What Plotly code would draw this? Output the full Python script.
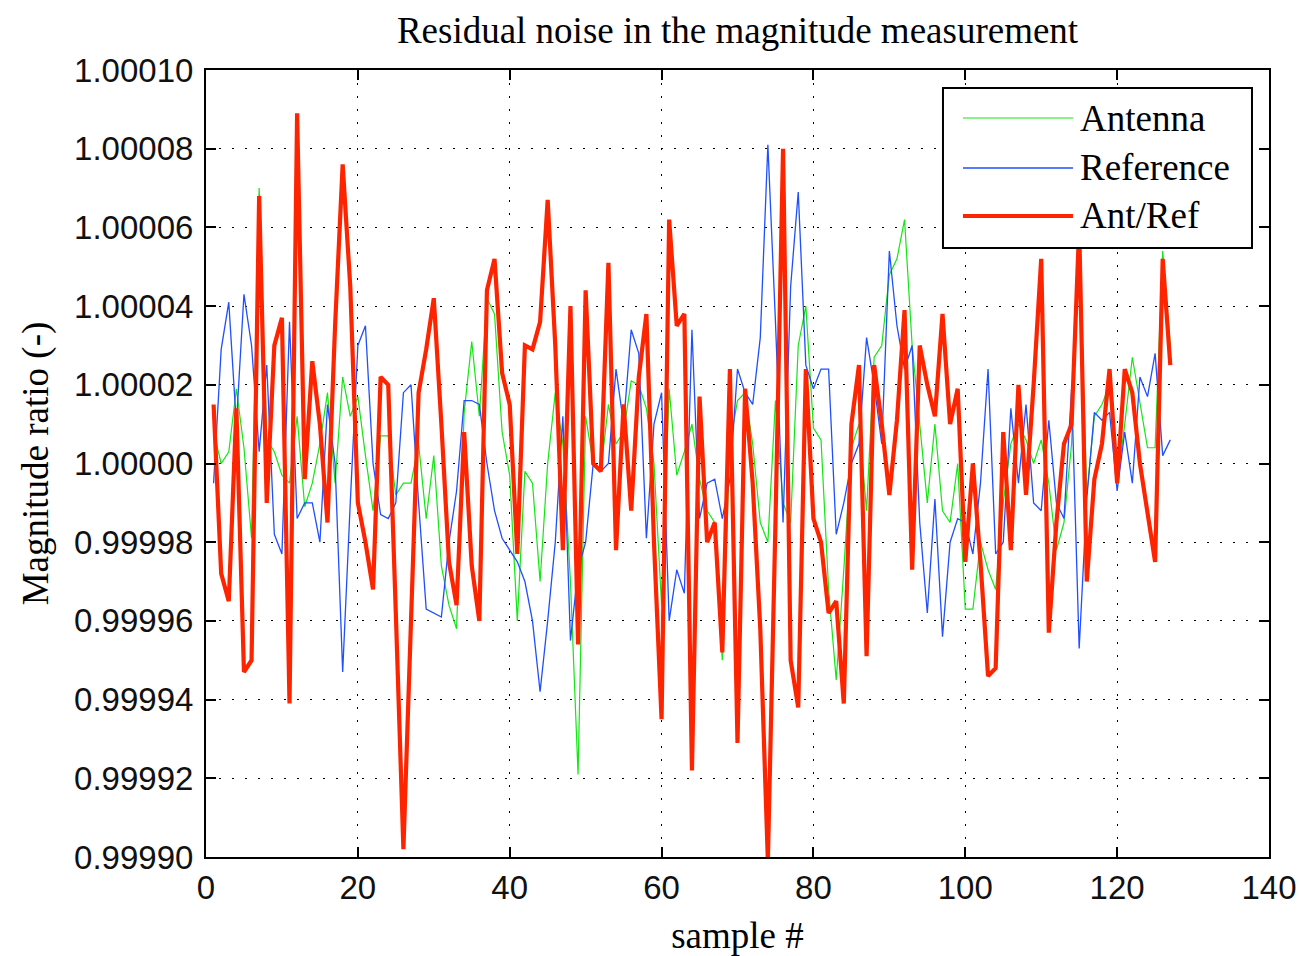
import numpy as np
import plotly.graph_objects as go

# Sample index of each measurement
samples = list(range(1, 128))

# Deviation from unity for each measurement, in parts per million (1e-6)
antenna_ppm = [
    8, 0, 3, 19, 4, -19, 70, 6, 3, -3,
    -5, 12, -11, -5, 5, 18, -5, 22, 12, 17,
    2, -12, 7, 7, -8, -5, -5, 5, -14, 2,
    -26, -36, -42, 13, 31, 12, 42, 38, 8, -3,
    -40, -2, -5, -30, 0, 18, 5, -30, -79, 12,
    0, -2, 15, 5, 8, 21, 20, 14, 0, -36,
    19, -3, 3, 10, -4, -12, -15, -50, 5, 16,
    18, 5, -15, -20, 16, -10, -15, 30, 40, 9,
    6, -32, -55, -27, 4, 10, -12, 27, 30, 48,
    52, 62, 30, 10, -10, 10, -12, -15, 0, -37,
    -37, -20, -27, -32, -10, 5, 10, 6, 0, 6,
    -5, -22, -15, 5, 60, -8, 12, 15, 20, -5,
    10, 27, 15, 4, 4, 54, 30,
]

reference_ppm = [
    -5, 29, 41, 10, 43, 30, 3, 25, -18, -23,
    36, -14, -10, -10, -20, 15, 0, -53, -10, 30,
    35, 0, -13, -14, -10, 18, 20, -10, -37, -38,
    -39, -20, -7, 16, 16, 15, 0, -12, -19, -22,
    -25, -30, -40, -58, -40, -20, 12, -45, -27, -20,
    0, -2, 0, 24, 10, 34, 28, -19, 10, 18,
    -40, -27, -33, 34, -14, -5, -4, -14, -4, 24,
    18, 15, 32, 81, 36, -15, 45, 69, 25, 19,
    24, 24, -18, -10, 0, 5, 32, 20, 5, 54,
    35, 24, 30, -15, -38, -9, -44, -20, -14, -15,
    -23, -5, 24, -23, -20, 14, -5, 15, -10, -12,
    11, -10, -14, 19, -47, -9, 13, 11, 13, -7,
    8, -5, 22, 17, 28, 2, 6,
]

ant_ref_ppm = [
    15, -28, -35, 14, -53, -50, 68, -10, 30, 37,
    -61, 89, -4, 26, 10, -15, 35, 76, 45, -10,
    -20, -32, 22, 20, -38, -98, -40, 18, 29, 42,
    10, -25, -36, 8, -26, -40, 44, 52, 23, 15,
    -23, 30, 29, 36, 67, 30, -22, 40, -46, 44,
    0, -2, 51, -22, 15, -12, 22, 38, -20, -65,
    62, 35, 38, -78, 17, -20, -15, -48, 24, -71,
    19, -5, -42, -101, -15, 80, -50, -62, 24, -14,
    -20, -38, -35, -61, 10, 25, -49, 25, 10, -8,
    11, 39, -27, 30, 20, 12, 38, 10, 19, -25,
    0, -25, -54, -52, 8, -22, 20, -8, 20, 52,
    -43, -15, 5, 10, 60, -30, -4, 5, 24, -5,
    24, 18, 0, -12, -25, 52, 25,
]

series_names = ["Antenna", "Reference", "Ant/Ref"]
series_ppm = [antenna_ppm, reference_ppm, ant_ref_ppm]
series_colors = ["#14e614", "#1f4fff", "#ff2400"]
series_widths = [1.2, 1.3, 4.2]

y_ticks = [0.99990, 0.99992, 0.99994, 0.99996, 0.99998,
           1.00000, 1.00002, 1.00004, 1.00006, 1.00008, 1.00010]
x_ticks = [0, 20, 40, 60, 80, 100, 120, 140]

SERIF = "Liberation Serif, Times New Roman, serif"
SANS = "Liberation Sans, Arial, sans-serif"
TEXT_SIZE = 37

fig = go.Figure()
for name, ppm, color, width in zip(series_names, series_ppm, series_colors, series_widths):
    ratio = 1.0 + np.asarray(ppm, dtype=float) * 1e-6
    fig.add_trace(go.Scatter(
        x=samples, y=ratio, mode="lines", name=name,
        line=dict(color=color, width=width),
        showlegend=False,
    ))

axis_common = dict(
    showline=True, linecolor="black", linewidth=2,
    mirror="ticks", ticks="inside", ticklen=10, tickwidth=1.5, tickcolor="black",
    showgrid=True, gridcolor="black", gridwidth=1.3, griddash="2px,11px",
    zeroline=False,
    tickfont=dict(family=SANS, size=33, color="#111111"),
)

fig.update_xaxes(
    range=[0, 140], tickmode="array", tickvals=x_ticks,
    ticktext=[str(v) for v in x_ticks],
    title=dict(text="sample #", font=dict(family=SERIF, size=TEXT_SIZE, color="black"), standoff=19),
    **axis_common,
)
fig.update_yaxes(
    range=[0.99990, 1.00010], tickmode="array", tickvals=y_ticks,
    ticktext=[f"{v:.5f}" for v in y_ticks],
    ticklabelstandoff=4,
    title=dict(text="Magnitude ratio (-)", font=dict(family=SERIF, size=TEXT_SIZE, color="black"), standoff=14),
    **axis_common,
)

# Legend box drawn in paper coordinates
box_x0, box_x1, box_y0, box_y1 = 0.6933, 0.9840, 0.7738, 0.9771
line_x0, line_x1, text_x = 0.7121, 0.8156, 0.8200
row_y = [0.9390, 0.8755, 0.8145]

shapes = [dict(type="rect", xref="paper", yref="paper",
               x0=box_x0, x1=box_x1, y0=box_y0, y1=box_y1,
               fillcolor="white", line=dict(color="black", width=2), layer="above")]
annotations = []
for name, color, width, yy in zip(series_names, series_colors, series_widths, row_y):
    shapes.append(dict(type="line", xref="paper", yref="paper",
                       x0=line_x0, x1=line_x1, y0=yy, y1=yy,
                       line=dict(color=color, width=width), layer="above"))
    annotations.append(dict(xref="paper", yref="paper", x=text_x, y=yy,
                            text=name, showarrow=False, xanchor="left", yanchor="middle",
                            font=dict(family=SERIF, size=TEXT_SIZE, color="black")))

fig.update_layout(
    width=1299, height=956,
    margin=dict(l=206, r=30, t=70, b=99, autoexpand=False),
    paper_bgcolor="white", plot_bgcolor="white",
    title=dict(text="Residual noise in the magnitude measurement",
               font=dict(family=SERIF, size=TEXT_SIZE, color="black"),
               x=0.5, xref="paper", y=1 - 30 / 956, yref="container", yanchor="middle"),
    shapes=shapes, annotations=annotations,
    showlegend=False,
)

fig.write_html("out.html")
